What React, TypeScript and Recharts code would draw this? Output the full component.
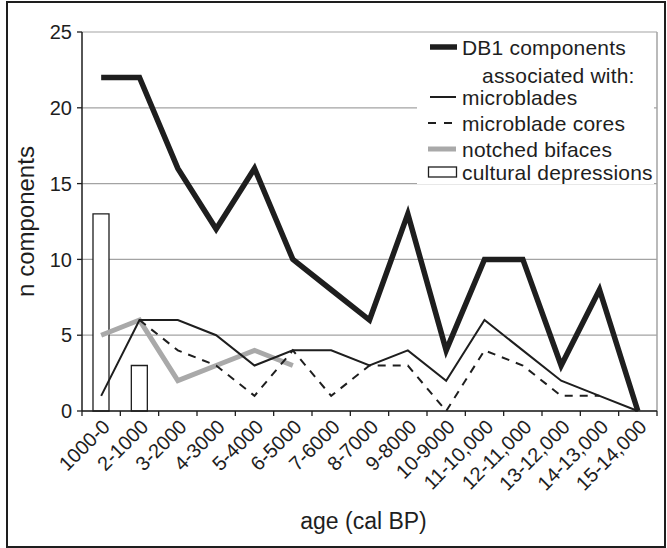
import { Bar, CartesianGrid, ComposedChart, Line, ReferenceLine, XAxis, YAxis } from "recharts"

const categories = [
  "1000-0",
  "2-1000",
  "3-2000",
  "4-3000",
  "5-4000",
  "6-5000",
  "7-6000",
  "8-7000",
  "9-8000",
  "10-9000",
  "11-10,000",
  "12-11,000",
  "13-12,000",
  "14-13,000",
  "15-14,000",
]
const db1 = [22, 22, 16, 12, 16, 10, 8, 6, 13, 4, 10, 10, 3, 8, 0]
const microblades = [1, 6, 6, 5, 3, 4, 4, 3, 4, 2, 6, 4, 2, 1, 0]
const microbladeCores = [null, 6, 4, 3, 1, 4, 1, 3, 3, 0, 4, 3, 1, 1, null]
const notchedBifaces = [5, 6, 2, 3, 4, 3, null, null, null, null, null, null, null, null, null]
const culturalDepressions = [13, 3, null, null, null, null, null, null, null, null, null, null, null, null, null]
const yTicks = [0, 5, 10, 15, 20, 25]
// category centres get labels, category edges get tick marks
const xTicks = [...categories.map((_, i) => i), categories.length, ...categories.map((_, i) => i + 0.5)]

const data = categories.map((label, i) => ({
  pos: i + 0.5,
  label,
  db1: db1[i],
  microblades: microblades[i],
  cores: microbladeCores[i],
  notched: notchedBifaces[i],
  depressions: culturalDepressions[i],
}))

const INK = "#1e1e1e"
const GRID = "#a3a3a3"
const FONT = '"Liberation Sans", Arial, Helvetica, sans-serif'

function AgeTick({ x, y, payload }: any) {
  const v = payload.value as number
  if (Number.isInteger(v)) {
    return <line x1={x} y1={y} x2={x} y2={y + 5} stroke={INK} strokeWidth={1.3} />
  }
  return (
    <g transform={`translate(${x},${y + 7})`}>
      <text transform="rotate(-45)" textAnchor="end" dy="0.71em" fontSize={20} fill={INK} fontFamily={FONT}>
        {categories[Math.floor(v)]}
      </text>
    </g>
  )
}

const legendRows = [
  { y: 11, text: "DB1 components", x: 45, sample: <line x1={13} x2={40} y1={11} y2={11} stroke={INK} strokeWidth={5.5} /> },
  { y: 39, text: "associated with:", x: 65, sample: null },
  { y: 61, text: "microblades", x: 45, sample: <line x1={13} x2={39} y1={61} y2={61} stroke={INK} strokeWidth={2} /> },
  {
    y: 87,
    text: "microblade cores",
    x: 45,
    sample: <line x1={11} x2={36} y1={87} y2={87} stroke={INK} strokeWidth={2} strokeDasharray="8 8" />,
  },
  { y: 113, text: "notched bifaces", x: 45, sample: <line x1={11} x2={39} y1={113} y2={113} stroke="#a9a9a9" strokeWidth={5} /> },
  {
    y: 136,
    text: "cultural depressions",
    x: 45,
    sample: <rect x={11.5} y={131} width={28} height={10} fill="#fff" stroke={INK} strokeWidth={1.3} />,
  },
]

function ChartLegend() {
  return (
    <div style={{ position: "absolute", left: 417, top: 36, width: 237, height: 148, background: "#fff" }}>
      <svg width={237} height={148}>
        {legendRows.map((r) => (
          <g key={r.text}>
            {r.sample}
            <text
              x={r.x}
              y={r.y}
              dominantBaseline="central"
              fontSize={21}
              letterSpacing={0.2}
              fill={INK}
              fontFamily={FONT}
            >
              {r.text}
            </text>
          </g>
        ))}
      </svg>
    </div>
  )
}

export default function App() {
  return (
    <div style={{ position: "absolute", left: 0, top: 0, width: 667, height: 548, background: "#fff", fontFamily: FONT }}>
      <div
        style={{
          position: "absolute",
          left: 6,
          top: 1,
          width: 660,
          height: 547,
          boxSizing: "border-box",
          border: `2px solid ${INK}`,
        }}
      />
      <div style={{ position: "absolute", left: 0, top: 0 }}>
        <ComposedChart width={667} height={548} data={data} margin={{ top: 32, right: 10, left: 0, bottom: 0 }}>
          <CartesianGrid vertical={false} stroke={GRID} strokeWidth={1.2} />
          <XAxis
            dataKey="pos"
            type="number"
            domain={[0, categories.length]}
            ticks={xTicks}
            interval={0}
            tick={<AgeTick />}
            tickSize={0}
            tickMargin={0}
            tickLine={false}
            axisLine={{ stroke: INK, strokeWidth: 1.5 }}
            height={137}
            label={(props: any) => {
              const vb = props.viewBox
              return (
                <text x={vb.x + vb.width / 2 - 6} y={vb.y + 118} textAnchor="middle" fontSize={23} fill={INK} fontFamily={FONT}>
                  age (cal BP)
                </text>
              )
            }}
          />
          <YAxis
            domain={[0, 25]}
            ticks={yTicks}
            width={82}
            tickSize={5}
            tickMargin={5}
            tick={{ fontSize: 20, fill: INK, fontFamily: FONT }}
            tickLine={{ stroke: INK, strokeWidth: 1.3 }}
            axisLine={{ stroke: INK, strokeWidth: 1.5 }}
            label={(props: any) => {
              const vb = props.viewBox
              const cx = vb.x + 34
              const cy = vb.y + vb.height / 2
              return (
                <text x={cx} y={cy} transform={`rotate(-90 ${cx} ${cy})`} textAnchor="middle" fontSize={24} fill={INK} fontFamily={FONT}>
                  n components
                </text>
              )
            }}
          />
          <ReferenceLine x={categories.length} stroke={GRID} strokeWidth={1.5} />
          <Bar dataKey="depressions" barSize={16} fill="#fff" stroke={INK} strokeWidth={1.3} isAnimationActive={false} />
          <Line dataKey="notched" stroke="#a9a9a9" strokeWidth={5} dot={false} isAnimationActive={false} />
          <Line
            dataKey="cores"
            stroke={INK}
            strokeWidth={2}
            strokeDasharray="8 7"
            dot={false}
            isAnimationActive={false}
          />
          <Line dataKey="microblades" stroke={INK} strokeWidth={2} dot={false} isAnimationActive={false} />
          <Line
            dataKey="db1"
            stroke={INK}
            strokeWidth={5.5}
            strokeLinejoin="miter"
            dot={false}
            isAnimationActive={false}
          />
        </ComposedChart>
      </div>
      <ChartLegend />
    </div>
  )
}
